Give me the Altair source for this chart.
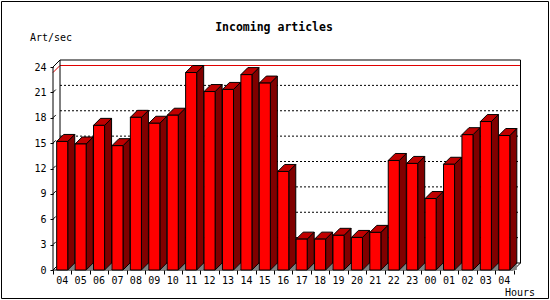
import altair as alt
import pandas as pd

# ---- data ----
hours = ["04", "05", "06", "07", "08", "09", "10", "11", "12", "13", "14", "15", "16",
         "17", "18", "19", "20", "21", "22", "23", "00", "01", "02", "03", "04"]
rate = [15.2, 14.9, 17.1, 14.7, 18.05, 17.35, 18.3, 23.35, 21.1, 21.35, 23.1, 22.1, 11.65,
        3.65, 3.65, 4.1, 3.85, 4.45, 12.95, 12.6, 8.45, 12.5, 16.0, 17.55, 15.9]
y_ticks = [0, 3, 6, 9, 12, 15, 18, 21, 24]
title_text = "Incoming articles"
y_title = "Art/sec"
x_title = "Hours"

# ---- layout (pixels) ----
W, H = 468, 210
PXX, PXY = 18.42, 8.458          # pixels per slot / per unit
DEPTH = 7                         # 3D depth in pixels
DX, DY = DEPTH / PXX, DEPTH / PXY
BL, BR = 0.2, 0.8                 # bar front face inside slot
n = len(rate)
YMAX = y_ticks[-1]
FONT = "DejaVu Sans Mono"

xs = alt.Scale(domain=[0, W / PXX], nice=False, zero=False)
ys = alt.Scale(domain=[0, H / PXY], nice=False, zero=False)
xaxis = alt.Axis(values=list(range(n + 1)), labels=False, tickSize=4, domain=False,
                 grid=False, title=None, tickColor="black")
yaxis = alt.Axis(values=y_ticks, tickSize=3, labelPadding=4, domain=False, grid=False,
                 title=None, tickColor="black", labelFont=FONT, labelFontSize=10,
                 labelColor="black")


def X(f):
    return alt.X(f, scale=xs, axis=xaxis)


def Y(f):
    return alt.Y(f, scale=ys, axis=yaxis, stack=None)


# ---- 3D bar faces as closed polygons ----
front = pd.DataFrame({"x": [i + BL for i in range(n)], "x2": [i + BR for i in range(n)],
                      "lo": [0.0] * n, "hi": rate})
side_rows, top_rows, floor_rows = [], [], []
for i, v in enumerate(rate):
    xl, xr = i + BL, i + BR
    side = [(xr, 0.0), (xr + DX, DY), (xr + DX, v + DY), (xr, v), (xr, 0.0)]
    top = [(xl, v), (xr, v), (xr + DX, v + DY), (xl + DX, v + DY), (xl, v)]
    flo = [(xr, 0.0), (xr + DX, 0.0), (xr + DX, DY), (xr, 0.0)]
    side_rows += [(i, k, px, py) for k, (px, py) in enumerate(side)]
    top_rows += [(i, k, px, py) for k, (px, py) in enumerate(top)]
    floor_rows += [(i, k, px, py) for k, (px, py) in enumerate(flo)]
pcols = ["bar", "k", "x", "y"]
side_df = pd.DataFrame(side_rows, columns=pcols)
top_df = pd.DataFrame(top_rows, columns=pcols)
floor_df = pd.DataFrame(floor_rows, columns=pcols)


def poly(df, fill, stroke):
    kw = dict(fill=fill, strokeWidth=1, interpolate="linear")
    if stroke:
        kw["stroke"] = stroke
    else:
        kw["strokeOpacity"] = 0
    return alt.Chart(df).mark_line(**kw).encode(
        x=X("x:Q"), y=Y("y:Q"), detail="bar:N", order=alt.Order("k:Q"))


floor_l = poly(floor_df, "#808080", None)
side_l = poly(side_df, "#800000", "black")
top_l = poly(top_df, "#C00000", "black")
front_l = alt.Chart(front).mark_rect(fill="#FF0000", stroke="black", strokeWidth=1).encode(
    x=X("x:Q"), x2="x2:Q", y=Y("lo:Q"), y2="hi:Q")

# ---- walls / frame ----
lcols = ["x", "y", "x2", "y2"]
frame = pd.DataFrame([
    (0, 0, 0, YMAX),
    (0, 0, n, 0),
    (0, 0, DX, DY),
    (0, YMAX, DX, YMAX + DY),
    (DX, DY, DX, YMAX + DY),
    (DX, YMAX + DY, n + DX, YMAX + DY),
    (n + DX, DY, n + DX, YMAX + DY),
    (n, 0, n + DX, DY),
    (DX, DY, n + DX, DY),
], columns=lcols)
grid = pd.DataFrame([(DX, t + DY, n + DX, t + DY) for t in y_ticks[1:-1]], columns=lcols)
wall_ticks = pd.DataFrame([(0, t, DX * 0.4, t + DY * 0.4) for t in y_ticks[1:-1]],
                          columns=lcols)
m = max(rate)
maxline = pd.DataFrame([(0, m, DX, m + DY), (DX, m + DY, n + DX, m + DY)], columns=lcols)


def rules(df, **kw):
    return alt.Chart(df).mark_rule(**kw).encode(x=X("x:Q"), y=Y("y:Q"), x2="x2:Q", y2="y2:Q")


grid_l = rules(grid, color="black", strokeWidth=1, strokeDash=[2, 2])
max_l = rules(maxline, color="#E00000", strokeWidth=1)
frame_l = rules(frame, color="black", strokeWidth=1)
wt_l = rules(wall_ticks, color="black", strokeWidth=1)

# ---- texts ----
labels = pd.DataFrame({"xc": [i + 0.5 for i in range(n)], "h": hours})
xlab_l = alt.Chart(labels).mark_text(font=FONT, fontSize=10, baseline="alphabetic",
                                     align="center", color="black").encode(
    x=X("xc:Q"), y=alt.value(224), text="h:N")

one = pd.DataFrame({"a": [0]})
title_l = alt.Chart(one).mark_text(text=title_text, font=FONT, fontSize=11.5, fontWeight="bold",
                                   align="center", baseline="alphabetic", color="black").encode(
    x=alt.value(221), y=alt.value(-29.5))
ytitle_l = alt.Chart(one).mark_text(text=y_title, font=FONT, fontSize=10, align="left",
                                    baseline="alphabetic", color="black").encode(
    x=alt.value(-23), y=alt.value(-19.5))
xtitle_l = alt.Chart(one).mark_text(text=x_title, font=FONT, fontSize=10, align="left",
                                    baseline="alphabetic", color="black").encode(
    x=alt.value(452), y=alt.value(236))
border_l = alt.Chart(one).mark_rect(fillOpacity=0, stroke="black", strokeWidth=1).encode(
    x=alt.value(-51.5), x2=alt.value(495.5), y=alt.value(-58.5), y2=alt.value(238.5))

chart = alt.layer(
    border_l, grid_l, max_l, frame_l, wt_l,
    floor_l, side_l, top_l, front_l,
    xlab_l, title_l, ytitle_l, xtitle_l,
).properties(
    width=W, height=H,
    autosize=alt.AutoSizeParams(type="none"),
    padding={"left": 53, "top": 60, "right": 550 - 53 - W, "bottom": 300 - 60 - H},
    background="white",
).configure_view(stroke=None)

chart.save("out.html", embed_options={"renderer": "svg", "actions": False})
